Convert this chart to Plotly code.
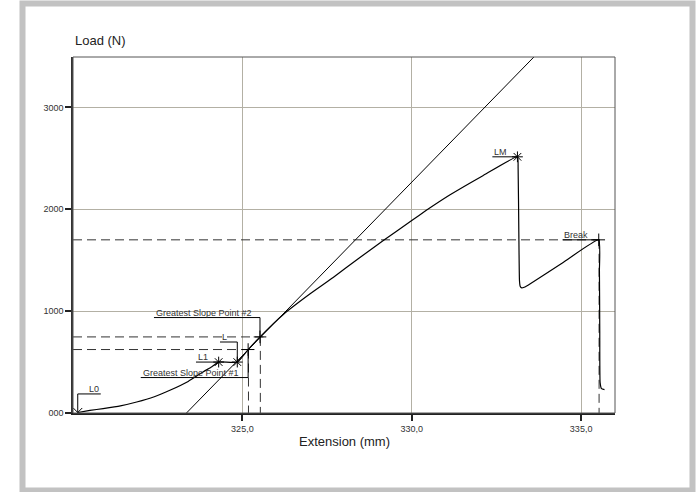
import plotly.graph_objects as go

# ---- data ----
curve_x = [320.14, 320.5, 320.89, 321.4, 321.88, 322.4, 322.86, 323.4, 323.84, 324.10, 324.30,
           324.85, 325.17, 325.52, 326.2, 327.0, 327.68, 328.4, 329.15, 330.0, 330.43, 331.12,
           332.1, 333.12, 333.14, 333.16, 333.18, 333.20, 333.25, 333.32, 333.5, 334.4, 335.52,
           335.54, 335.55, 335.56, 335.6, 335.69]
curve_y = [5, 25, 43, 70, 108, 160, 223, 310, 403, 455, 500,
           500, 623, 747, 965, 1170, 1330, 1510, 1690, 1890, 1990, 2140,
           2330, 2515, 2400, 1800, 1300, 1245, 1228, 1235, 1270, 1462, 1700,
           1400, 800, 300, 240, 230]

tangent_x = [323.35, 333.62]
tangent_y = [0, 3500]

point_names = ["L0", "L1", "L", "Greatest Slope Point #1", "Greatest Slope Point #2", "LM", "Break"]
point_x = [320.14, 324.30, 324.85, 325.17, 325.52, 333.12, 335.52]
point_y = [5, 500, 500, 623, 747, 2515, 1700]
point_symbol = ["x-thin-open", "asterisk-open", "asterisk-open", "cross-thin-open",
                "cross-thin-open", "asterisk-open", "cross-thin-open"]
# label: left x of text/underline, underline level
label_x = [320.14, 323.63, 324.34, 322.0, 322.39, 332.38, 334.45]
label_y = [187, 500, 697, 348, 937, 2515, 1700]
label_right = [320.82, None, None, None, None, None, None]

x_ticks = [325, 330, 335]
x_ticktext = ["325,0", "330,0", "335,0"]
y_ticks = [0, 1000, 2000, 3000]
y_ticktext = ["000", "1000", "2000", "3000"]

X_RANGE = [320, 336]
Y_RANGE = [0, 3495]

FONT = "Liberation Sans, Arial"

fig = go.Figure()

dash_style = dict(color="#333333", width=1, dash="9px,5px")
# dashed reference lines (break, GSP1, GSP2)
for idx, ext in [(6, 0.1), (3, 0.05), (4, 0.1)]:
    px_, py_ = point_x[idx], point_y[idx]
    fig.add_trace(go.Scatter(x=[X_RANGE[0], px_ + ext], y=[py_, py_], mode="lines",
                             line=dash_style, hoverinfo="skip", showlegend=False))
    fig.add_trace(go.Scatter(x=[px_ + 0.01, px_ + 0.01], y=[py_, 0], mode="lines",
                             line=dash_style, hoverinfo="skip", showlegend=False))

# tangent line
fig.add_trace(go.Scatter(x=tangent_x, y=tangent_y, mode="lines",
                         line=dict(color="black", width=1), showlegend=False))
# main curve
fig.add_trace(go.Scatter(x=curve_x, y=curve_y, mode="lines",
                         line=dict(color="black", width=1.2, shape="spline", smoothing=0.4),
                         showlegend=False))

# labels: underline + leader
for i, name in enumerate(point_names):
    lx, ly = label_x[i], label_y[i]
    if label_right[i] is not None:
        xs = [label_right[i], point_x[i], point_x[i]]
    else:
        xs = [lx, point_x[i], point_x[i]]
    fig.add_trace(go.Scatter(x=xs, y=[ly, ly, point_y[i]], mode="lines",
                             line=dict(color="black", width=1), hoverinfo="skip",
                             showlegend=False))
    if label_right[i] is not None:
        fig.add_annotation(x=label_right[i], y=ly, text=name, showarrow=False,
                           xanchor="right", yanchor="bottom", yshift=-2,
                           font=dict(size=9, color="#333333", family=FONT))
    else:
        fig.add_annotation(x=lx, y=ly, text=name, showarrow=False,
                           xanchor="left", yanchor="bottom", yshift=-2,
                           font=dict(size=9, color="#333333", family=FONT))

# point markers
fig.add_trace(go.Scatter(x=point_x, y=point_y, mode="markers",
                         marker=dict(symbol=point_symbol, size=9, color="black",
                                     line=dict(color="black", width=1)),
                         showlegend=False))

L, R, T, B = 73, 84, 57, 79
W, H = 699, 492
pw, ph = W - L - R, H - T - B


def paper_x(px):
    return (px - L) / pw


def paper_y(py):
    return (H - B - py) / ph


# outer gray frame
fig.add_shape(type="rect", xref="paper", yref="paper",
              x0=paper_x(22.5), x1=paper_x(692.5), y0=paper_y(490.5), y1=paper_y(3.5),
              line=dict(color="#c2c2c2", width=6), fillcolor="rgba(0,0,0,0)", layer="below")
# plot frame
fig.add_shape(type="rect", xref="paper", yref="paper", x0=0, x1=1, y0=0, y1=1,
              line=dict(color="#555555", width=1), fillcolor="rgba(0,0,0,0)", layer="above")

fig.add_annotation(xref="paper", yref="paper", x=paper_x(73), y=paper_y(40), text="Load (N)",
                   showarrow=False, xanchor="left", yanchor="middle",
                   font=dict(size=13, color="#222222", family=FONT))
fig.add_annotation(xref="paper", yref="paper", x=paper_x(344), y=paper_y(441),
                   text="Extension (mm)", showarrow=False, xanchor="center", yanchor="middle",
                   font=dict(size=13, color="#222222", family=FONT))

fig.update_layout(
    width=W, height=H,
    margin=dict(l=L, r=R, t=T, b=B),
    paper_bgcolor="white", plot_bgcolor="white",
    font=dict(family=FONT, size=9, color="#333333"),
    showlegend=False,
    xaxis=dict(range=X_RANGE, tickvals=x_ticks, ticktext=x_ticktext, showgrid=True,
               gridcolor="#b3b0a4", gridwidth=1, zeroline=False, showline=True,
               linecolor="#222222", linewidth=2, ticks="outside", ticklen=6,
               tickcolor="#222222", tickwidth=1.5, tickfont=dict(size=9, color="#333333")),
    yaxis=dict(range=Y_RANGE, tickvals=y_ticks, ticktext=y_ticktext, showgrid=True,
               gridcolor="#b3b0a4", gridwidth=1, zeroline=False, showline=True,
               linecolor="#333333", linewidth=1.5, ticks="outside", ticklen=6,
               tickcolor="#222222", tickwidth=1.5, tickfont=dict(size=9, color="#333333")),
)

fig.write_html("out.html", config={"displayModeBar": False},
               post_script="document.body.style.margin='0';document.body.style.overflow='hidden';")
